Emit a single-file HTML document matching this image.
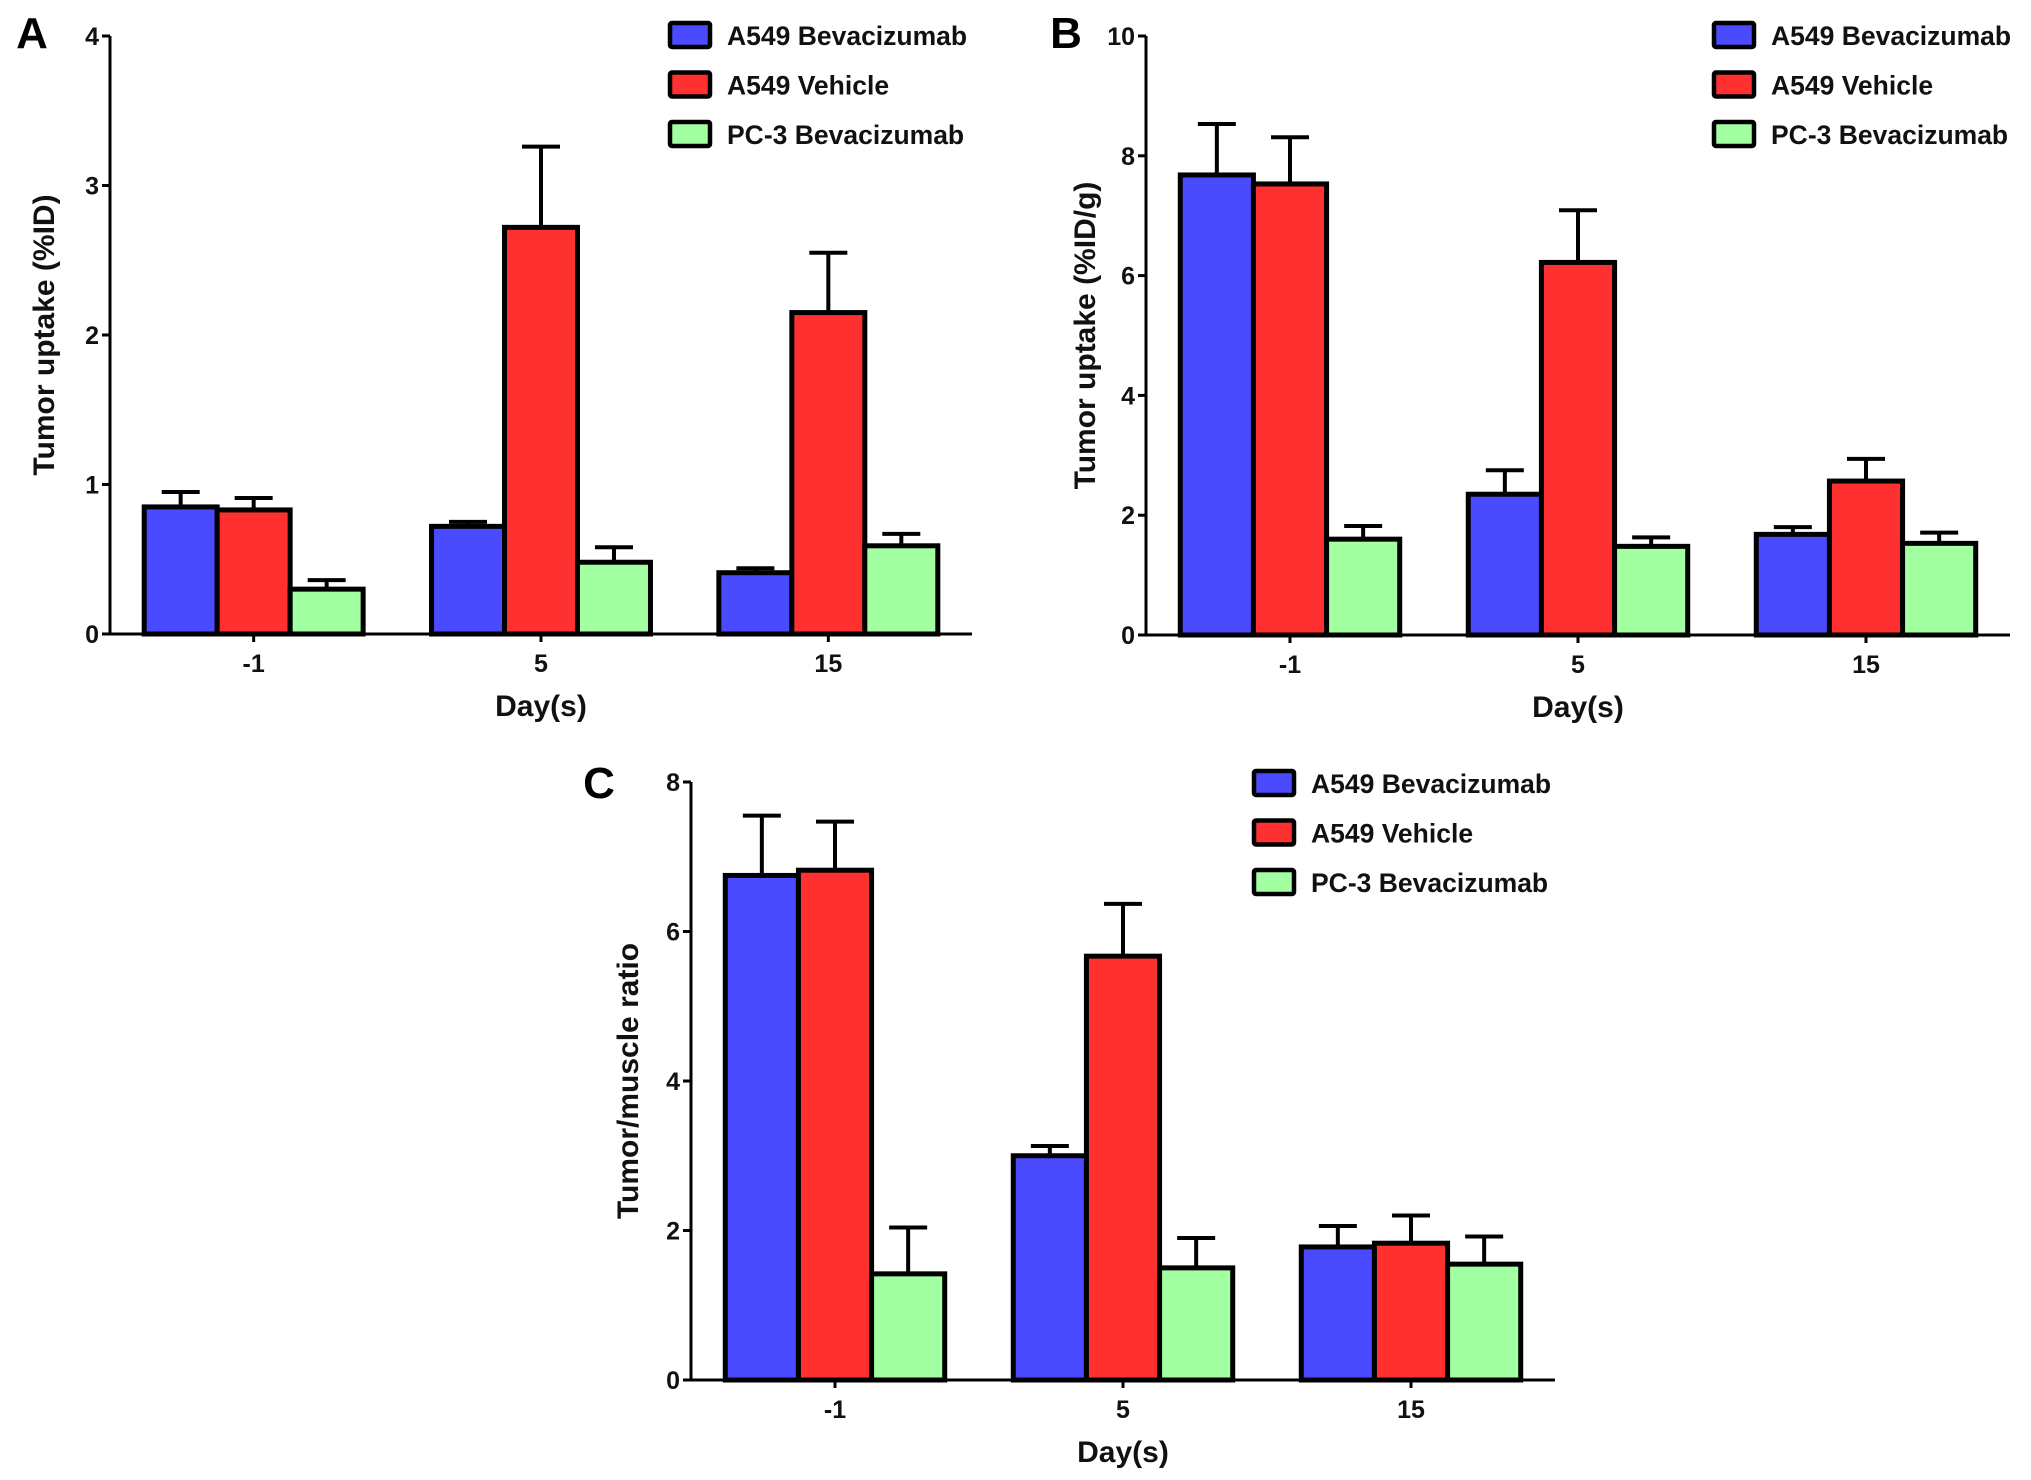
<!DOCTYPE html>
<html><head><meta charset="utf-8"><style>
html,body{margin:0;padding:0;background:#fff;}
svg{display:block;font-family:"Liberation Sans",Arial,sans-serif;font-weight:bold;}
</style></head><body>
<svg id="fig" width="2031" height="1480" viewBox="0 0 2031 1480"></svg>
<script>
const categories = ["-1", "5", "15"];
const seriesNames = ["A549 Bevacizumab", "A549 Vehicle", "PC-3 Bevacizumab"];
// Panel A: Tumor uptake (%ID)
const aBeva = [0.85, 0.72, 0.41];
const aBevaErr = [0.10, 0.03, 0.03];
const aVeh = [0.83, 2.72, 2.15];
const aVehErr = [0.08, 0.54, 0.40];
const aPc3 = [0.30, 0.48, 0.59];
const aPc3Err = [0.06, 0.10, 0.08];
const aTicks = [0, 1, 2, 3, 4];
// Panel B: Tumor uptake (%ID/g)
const bBeva = [7.68, 2.35, 1.68];
const bBevaErr = [0.85, 0.40, 0.12];
const bVeh = [7.53, 6.22, 2.57];
const bVehErr = [0.78, 0.87, 0.37];
const bPc3 = [1.60, 1.48, 1.53];
const bPc3Err = [0.22, 0.15, 0.18];
const bTicks = [0, 2, 4, 6, 8, 10];
// Panel C: Tumor/muscle ratio
const cBeva = [6.75, 3.00, 1.78];
const cBevaErr = [0.80, 0.13, 0.28];
const cVeh = [6.82, 5.67, 1.83];
const cVehErr = [0.65, 0.70, 0.37];
const cPc3 = [1.42, 1.50, 1.55];
const cPc3Err = [0.62, 0.40, 0.37];
const cTicks = [0, 2, 4, 6, 8];

const colors = ["#4a4aff", "#ff3030", "#a2ffa2"];
const NS = "http://www.w3.org/2000/svg";
const svg = document.getElementById("fig");
function mk(tag, attrs, parent, text) {
  const e = document.createElementNS(NS, tag);
  for (const k in attrs) e.setAttribute(k, attrs[k]);
  if (text !== undefined) e.textContent = text;
  (parent || svg).appendChild(e);
  return e;
}

function panel(cfg) {
  const g = mk("g", {});
  
  
  const ymax = cfg.ticks[cfg.ticks.length - 1];
  const y = v => cfg.y0 + (cfg.yTop - cfg.y0) * (v / ymax);
  const step = (cfg.x1 - cfg.x0) / categories.length;
  const xc = i => cfg.x0 + step * (i + 0.5);
  const bw = step * 0.254;

  const L = mk("text", {x: cfg.lx, y: cfg.ly, "font-size": 44, "text-anchor": "middle"}, g, cfg.id);
  
  

  const series = [cfg.s1, cfg.s2, cfg.s3];
  const errs = [cfg.e1, cfg.e2, cfg.e3];
  for (let s = 0; s < 3; s++) {
    for (let i = 0; i < categories.length; i++) {
      const bx = xc(i) + (s - 1.5) * bw;
      const top = y(series[s][i]);
      const etop = y(series[s][i] + errs[s][i]);
      const cx = bx + bw / 2;
      const el = mk("line", {x1: cx, x2: cx, y1: top, y2: etop, stroke: "#000", "stroke-width": 4}, g);
      
      
      const cap = mk("line", {x1: cx - 19, x2: cx + 19, y1: etop, y2: etop, stroke: "#000", "stroke-width": 4}, g);
      
      
      const r = mk("rect", {x: bx, y: top, width: bw, height: cfg.y0 - top, fill: colors[s], stroke: "#000", "stroke-width": 5}, g);
      
      
    }
  }
  const ya = mk("line", {x1: cfg.x0, x2: cfg.x0, y1: cfg.yTop, y2: cfg.y0 + 1, stroke: "#000", "stroke-width": 3}, g);
  
  
  const xa = mk("line", {x1: cfg.x0 - 8, x2: cfg.x1, y1: cfg.y0, y2: cfg.y0, stroke: "#000", "stroke-width": 3}, g);
  
  
  for (const t of cfg.ticks) {
    const tl = mk("line", {x1: cfg.x0 - 8, x2: cfg.x0, y1: y(t), y2: y(t), stroke: "#000", "stroke-width": 3}, g);
    
    
    const tx = mk("text", {x: cfg.x0 - 11, y: y(t) + 9, "font-size": 25, "text-anchor": "end", fill: "#111"}, g, String(t));
    
    
  }
  for (let i = 0; i < categories.length; i++) {
    const tl = mk("line", {x1: xc(i), x2: xc(i), y1: cfg.y0, y2: cfg.y0 + 8, stroke: "#000", "stroke-width": 3}, g);
    
    
    const tx = mk("text", {x: xc(i), y: cfg.y0 + 38, "font-size": 25, "text-anchor": "middle", fill: "#111"}, g, categories[i]);
    
    
  }
  const xt = mk("text", {x: xc(1), y: cfg.y0 + 82, "font-size": 30, "text-anchor": "middle", fill: "#111"}, g, "Day(s)");
  
  
  const yt = mk("text", {x: 0, y: 0, "font-size": 30, "text-anchor": "middle", fill: "#111",
    transform: "translate(" + (cfg.ytx + 18) + "," + ((cfg.y0 + cfg.yTop) / 2) + ") rotate(-90)"}, g, cfg.ytitle);
  
  
  for (let s = 0; s < 3; s++) {
    const cy = cfg.legY + s * 49.5;
    const lg = mk("g", {}, g);
    
    
    mk("rect", {x: cfg.legX, y: cy - 12, width: 40, height: 24, fill: colors[s], stroke: "#000", "stroke-width": 4.5, rx: 2}, lg);
    mk("text", {x: cfg.legX + 57, y: cy + 10, "font-size": 26.5, fill: "#111"}, lg, seriesNames[s]);
  }
}

panel({id: "A", x0: 110, x1: 972, yTop: 36, y0: 634, ticks: aTicks,
  s1: aBeva, s2: aVeh, s3: aPc3, e1: aBevaErr, e2: aVehErr, e3: aPc3Err,
  lx: 32, ly: 48, ytx: 36, ytitle: "Tumor uptake (%ID)", legX: 670, legY: 35});
panel({id: "B", x0: 1146, x1: 2010, yTop: 36, y0: 635, ticks: bTicks,
  s1: bBeva, s2: bVeh, s3: bPc3, e1: bBevaErr, e2: bVehErr, e3: bPc3Err,
  lx: 1066, ly: 48, ytx: 1077, ytitle: "Tumor uptake (%ID/g)", legX: 1714, legY: 35});
panel({id: "C", x0: 691, x1: 1555, yTop: 782, y0: 1380, ticks: cTicks,
  s1: cBeva, s2: cVeh, s3: cPc3, e1: cBevaErr, e2: cVehErr, e3: cPc3Err,
  lx: 599, ly: 798, ytx: 620, ytitle: "Tumor/muscle ratio", legX: 1254, legY: 783});
</script>
</body></html>
